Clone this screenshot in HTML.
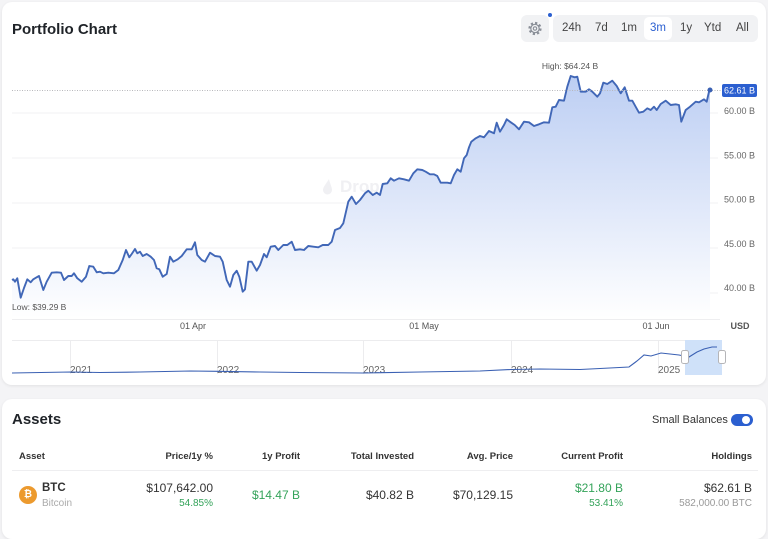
<!DOCTYPE html>
<html><head><meta charset="utf-8">
<style>
*{margin:0;padding:0;box-sizing:border-box}
html,body{width:768px;height:527px;overflow:hidden;background:#f4f4f6;font-family:"Liberation Sans",sans-serif;color:#1f2328}
.card{position:absolute;left:2px;width:764px;background:#fff;border-radius:10px;box-shadow:0 1px 3px rgba(0,0,0,0.08)}
.abs{position:absolute;white-space:nowrap}
.r{text-align:right}
.th{font-size:9.5px;font-weight:bold;color:#333;top:451px}
.g{color:#34a35a}
</style></head><body>
<div class="card" style="top:2px;height:383px"></div>
<div class="card" style="top:399px;height:140px"></div>

<div class="abs" style="left:12px;top:21px;font-size:15px;font-weight:bold;color:#1f2328">Portfolio Chart</div>

<!-- gear -->
<div class="abs" style="left:521px;top:15px;width:28px;height:27px;background:#f1f2f4;border-radius:6px"></div>
<svg class="abs" style="left:521px;top:15px" width="30" height="27" viewBox="0 0 30 27">
<circle cx="14" cy="13.5" r="5.5" fill="none" stroke="#8a8f98" stroke-width="2.2" stroke-dasharray="2.2 2.1"/>
<circle cx="14" cy="13.5" r="4.2" fill="none" stroke="#8a8f98" stroke-width="1.2"/>
<circle cx="14" cy="13.5" r="1.7" fill="none" stroke="#8a8f98" stroke-width="1.1"/>
</svg>
<div class="abs" style="left:547.5px;top:13px;width:4px;height:4px;border-radius:50%;background:#2b5fd0"></div>
<div class="abs" style="left:553px;top:15px;width:205px;height:27px;background:#f1f2f4;border-radius:6px"></div>
<div class="abs" style="left:644px;top:17px;width:28px;height:23px;background:#fff;border-radius:5px"></div>
<div class="abs" style="top:22px;left:0;font-size:11.5px;color:#444">
<span class="abs" style="left:562px">24h</span>
<span class="abs" style="left:595px">7d</span>
<span class="abs" style="left:621px">1m</span>
<span class="abs" style="left:650px;color:#2b5fd0">3m</span>
<span class="abs" style="left:680px">1y</span>
<span class="abs" style="left:704px">Ytd</span>
<span class="abs" style="left:736px">All</span>
</div>

<svg class="abs" style="left:0;top:0" width="768" height="385" viewBox="0 0 768 385">
<defs>
<linearGradient id="fg" gradientUnits="userSpaceOnUse" x1="0" y1="75" x2="0" y2="318">
<stop offset="0" stop-color="#bccef3"/>
<stop offset="0.5" stop-color="#dde6f9"/>
<stop offset="1" stop-color="#ffffff"/>
</linearGradient>
</defs>
<g stroke="#f0f0f3" stroke-width="1">
<line x1="12" y1="113" x2="718" y2="113"/>
<line x1="12" y1="158" x2="718" y2="158"/>
<line x1="12" y1="203" x2="718" y2="203"/>
<line x1="12" y1="248" x2="718" y2="248"/>
<line x1="12" y1="293" x2="718" y2="293"/>
</g>
<text x="340" y="192" font-size="17" font-weight="bold" fill="#f0f0f3" font-family="Liberation Sans">DropsTab</text>
<path d="M329,179 C326,184 323,187 323,190 a4.5,4.5 0 0 0 9,0 C332,187 330,184 329,179Z" fill="#f0f0f3"/>
<path id="ln" fill="url(#fg)" d="M12,280 L13.3,279.3 L15,281.7 L17.3,278.3 L20.7,297.7 L24,288 L27.3,279.3 L30.7,282.3 L33.3,279.3 L36,277.7 L39,276 L43.3,290 L46.7,281.7 L51.7,272.7 L56.7,272.3 L61,272.7 L64,280 L68.3,276 L71.7,276 L74,273.3 L77.3,278.3 L81.7,281.7 L86,276.7 L89.3,266 L93.3,266.7 L96.7,272.3 L100,271.7 L103.3,273.3 L108.3,272.7 L114,273.3 L118.3,270 L122.7,260 L126,250 L129.3,257.3 L131.7,254 L135,249 L137.3,253.3 L140,251.7 L142.7,256 L146.7,254 L150.7,256.7 L154,260 L156.7,268.3 L159.3,269.3 L162.7,276.7 L166.7,274 L170,256.7 L173.3,261.7 L177.7,259.3 L181.7,256 L186.7,249.3 L191.7,249.3 L195,242.3 L197.3,255 L201.7,260 L205,261.7 L210,252.7 L215,256 L220,256.7 L222.7,261.7 L226.7,280 L230,286.7 L233.3,275 L236.7,270.7 L239.3,276.7 L242.7,291.7 L245,289.3 L248.3,261.7 L251.7,261.7 L256.7,270.7 L260,265 L264,254 L266.7,257.3 L270.7,246.7 L275,246 L278.3,250 L283.3,245 L287.3,245 L291.7,241.7 L295,250 L300,249.3 L304,250 L308.3,246 L313.3,246.7 L318.3,247.3 L322.7,245 L328.3,245 L331.7,241.7 L335,230 L340,228 L343.3,223.3 L348.3,201.7 L351.7,196.7 L356,204 L360,200 L365,193.3 L368.3,190.7 L372.7,195 L376.7,192.7 L380,195 L382.7,184 L387.3,183.3 L390.7,178.3 L394,180.7 L399,178.3 L404,179.3 L409,180.7 L413.3,173.3 L417.3,169.3 L422.3,170 L425.7,171.7 L430,174.3 L434,174.3 L437.3,176 L440.7,182.7 L447.3,182.7 L450.7,183.3 L454,175 L457.3,169.3 L460.7,171.7 L464,158.3 L466.7,155 L469,147.3 L471.3,141.7 L475.7,138.3 L480,136 L484,137.3 L489,131 L494,133.3 L496.7,122.7 L500,131.7 L504,125 L506.7,119.3 L511.3,122.7 L514.7,125 L519,129.3 L524,121.7 L529,122.3 L534,126 L539,124.3 L544,122.3 L549,122.7 L552.3,107.3 L555.7,106.7 L559,100 L564,100.7 L567.3,86.7 L570.7,76 L574.7,77.3 L577.3,76.7 L580.7,91.7 L585.7,91.7 L589,89.3 L592.3,91.7 L597.3,96.7 L600,93.3 L603.3,82.7 L607.3,84 L612.3,80.7 L616.7,86 L620.7,93.3 L624.7,87.3 L629,100.7 L632.3,100.7 L639,112.7 L643.3,111.7 L647.3,108.3 L650.7,110 L654,106.7 L656.7,110 L660.7,104 L665.7,100.7 L670.7,105 L675.7,104.3 L679,105 L681.3,121.7 L685.7,110 L690,106.7 L695.7,101.7 L699,102.3 L704,99.3 L706.7,101.7 L709,91.7 L710,90 L710,318 L12,318 Z"/>
<polyline fill="none" stroke="#4167b7" stroke-width="1.9" stroke-linejoin="round" points="12,280 13.3,279.3 15,281.7 17.3,278.3 20.7,297.7 24,288 27.3,279.3 30.7,282.3 33.3,279.3 36,277.7 39,276 43.3,290 46.7,281.7 51.7,272.7 56.7,272.3 61,272.7 64,280 68.3,276 71.7,276 74,273.3 77.3,278.3 81.7,281.7 86,276.7 89.3,266 93.3,266.7 96.7,272.3 100,271.7 103.3,273.3 108.3,272.7 114,273.3 118.3,270 122.7,260 126,250 129.3,257.3 131.7,254 135,249 137.3,253.3 140,251.7 142.7,256 146.7,254 150.7,256.7 154,260 156.7,268.3 159.3,269.3 162.7,276.7 166.7,274 170,256.7 173.3,261.7 177.7,259.3 181.7,256 186.7,249.3 191.7,249.3 195,242.3 197.3,255 201.7,260 205,261.7 210,252.7 215,256 220,256.7 222.7,261.7 226.7,280 230,286.7 233.3,275 236.7,270.7 239.3,276.7 242.7,291.7 245,289.3 248.3,261.7 251.7,261.7 256.7,270.7 260,265 264,254 266.7,257.3 270.7,246.7 275,246 278.3,250 283.3,245 287.3,245 291.7,241.7 295,250 300,249.3 304,250 308.3,246 313.3,246.7 318.3,247.3 322.7,245 328.3,245 331.7,241.7 335,230 340,228 343.3,223.3 348.3,201.7 351.7,196.7 356,204 360,200 365,193.3 368.3,190.7 372.7,195 376.7,192.7 380,195 382.7,184 387.3,183.3 390.7,178.3 394,180.7 399,178.3 404,179.3 409,180.7 413.3,173.3 417.3,169.3 422.3,170 425.7,171.7 430,174.3 434,174.3 437.3,176 440.7,182.7 447.3,182.7 450.7,183.3 454,175 457.3,169.3 460.7,171.7 464,158.3 466.7,155 469,147.3 471.3,141.7 475.7,138.3 480,136 484,137.3 489,131 494,133.3 496.7,122.7 500,131.7 504,125 506.7,119.3 511.3,122.7 514.7,125 519,129.3 524,121.7 529,122.3 534,126 539,124.3 544,122.3 549,122.7 552.3,107.3 555.7,106.7 559,100 564,100.7 567.3,86.7 570.7,76 574.7,77.3 577.3,76.7 580.7,91.7 585.7,91.7 589,89.3 592.3,91.7 597.3,96.7 600,93.3 603.3,82.7 607.3,84 612.3,80.7 616.7,86 620.7,93.3 624.7,87.3 629,100.7 632.3,100.7 639,112.7 643.3,111.7 647.3,108.3 650.7,110 654,106.7 656.7,110 660.7,104 665.7,100.7 670.7,105 675.7,104.3 679,105 681.3,121.7 685.7,110 690,106.7 695.7,101.7 699,102.3 704,99.3 706.7,101.7 709,91.7 710,90"/>
<line x1="12" y1="90.5" x2="721" y2="90.5" stroke="#b8b8bc" stroke-width="1" stroke-dasharray="1 1.5"/>
<circle cx="710" cy="90" r="2.5" fill="#3a60b3"/>
<rect x="722" y="84" width="35" height="13" rx="2" fill="#2b5fd0"/>
<g font-family="Liberation Sans" font-size="9" fill="#666">
<text x="739.5" y="93.5" fill="#fff" text-anchor="middle">62.61 B</text>
<text x="724" y="114">60.00 B</text>
<text x="724" y="158.5">55.00 B</text>
<text x="724" y="202.5">50.00 B</text>
<text x="724" y="247">45.00 B</text>
<text x="724" y="291">40.00 B</text>
<text x="570" y="69" text-anchor="middle" font-size="8.5" fill="#555">High: $64.24 B</text>
<text x="12" y="310" font-size="8.5" fill="#555">Low: $39.29 B</text>
<text x="193" y="329" text-anchor="middle" fill="#555">01 Apr</text>
<text x="424" y="329" text-anchor="middle" fill="#555">01 May</text>
<text x="656" y="329" text-anchor="middle" fill="#555">01 Jun</text>
<text x="740" y="329" text-anchor="middle" font-weight="bold" fill="#555">USD</text>
</g>
<line x1="12" y1="319.5" x2="720" y2="319.5" stroke="#eeeef0"/>
<!-- navigator -->
<g stroke="#ececee" stroke-width="1">
<line x1="12" y1="340.5" x2="722" y2="340.5"/>
<line x1="70.5" y1="340" x2="70.5" y2="374"/>
<line x1="217.5" y1="340" x2="217.5" y2="374"/>
<line x1="363.5" y1="340" x2="363.5" y2="374"/>
<line x1="511.5" y1="340" x2="511.5" y2="374"/>
<line x1="658.5" y1="340" x2="658.5" y2="374"/>
</g>
<rect x="685" y="340" width="37" height="35" fill="#cfe1f9"/>
<g font-family="Liberation Sans" font-size="10" fill="#666">
<text x="70" y="373">2021</text>
<text x="217" y="373">2022</text>
<text x="363" y="373">2023</text>
<text x="511" y="373">2024</text>
<text x="658" y="373">2025</text>
</g>
<polyline fill="none" stroke="#3a60b3" stroke-width="1.1" points="12,373 70,372 100,372.5 140,372 190,371 217,371.3 260,372 300,372.5 363,373 420,372 480,371 511,369.5 540,369 580,369.5 600,368.5 629,367 637,361 644,355 651,356 661,353 670,354 679,355 689,357 697,352 704,349 712,347 717,347"/>
<rect x="681.5" y="350.5" width="7" height="13" rx="2" fill="#fff" stroke="#b5b5b8"/>
<rect x="718.5" y="350.5" width="7" height="13" rx="2" fill="#fff" stroke="#b5b5b8"/>
</svg>

<!-- Assets -->
<div class="abs" style="left:12px;top:411px;font-size:15px;font-weight:bold">Assets</div>
<div class="abs" style="left:652px;top:414px;font-size:11px;color:#333">Small Balances</div>
<div class="abs" style="left:731px;top:414px;width:22px;height:12px;border-radius:6px;background:#2b5fd0"></div>
<div class="abs" style="left:742px;top:416px;width:8px;height:8px;border-radius:50%;background:#fff"></div>

<div class="abs th" style="left:19px">Asset</div>
<div class="abs th r" style="right:555px">Price/1y %</div>
<div class="abs th r" style="right:468px">1y Profit</div>
<div class="abs th r" style="right:354px">Total Invested</div>
<div class="abs th r" style="right:255px">Avg. Price</div>
<div class="abs th r" style="right:145px">Current Profit</div>
<div class="abs th r" style="right:16px">Holdings</div>
<div class="abs" style="left:12px;top:470px;width:746px;height:1px;background:#eeeef0"></div>

<div class="abs" style="left:19px;top:486px;width:18px;height:18px;border-radius:50%;background:#ec9a2e;color:#fff;font-size:10px;font-weight:bold;text-align:center;line-height:18px">&#8383;</div>
<div class="abs" style="left:42px;top:482px;font-size:11.5px;font-weight:bold;color:#333">BTC</div>
<div class="abs" style="left:42px;top:498px;font-size:10px;color:#aaa">Bitcoin</div>

<div class="abs r" style="right:555px;top:481px;font-size:12px;color:#333">$107,642.00</div>
<div class="abs r g" style="right:555px;top:498px;font-size:10px">54.85%</div>
<div class="abs r g" style="right:468px;top:488px;font-size:12px">$14.47 B</div>
<div class="abs r" style="right:354px;top:488px;font-size:12px;color:#333">$40.82 B</div>
<div class="abs r" style="right:255px;top:488px;font-size:12px;color:#333">$70,129.15</div>
<div class="abs r g" style="right:145px;top:481px;font-size:12px">$21.80 B</div>
<div class="abs r g" style="right:145px;top:498px;font-size:10px">53.41%</div>
<div class="abs r" style="right:16px;top:481px;font-size:12px;color:#333">$62.61 B</div>
<div class="abs r" style="right:16px;top:498px;font-size:10px;color:#999">582,000.00 BTC</div>
</body></html>
